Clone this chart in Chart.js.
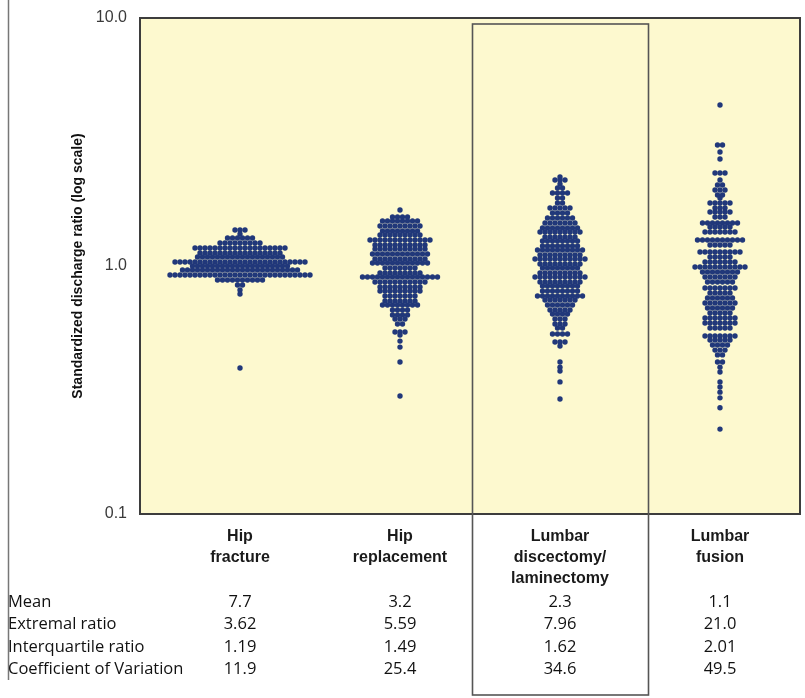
<!DOCTYPE html>
<html><head><meta charset="utf-8">
<script src="https://cdn.jsdelivr.net/npm/chart.js@4"></script>
<style>html,body{margin:0;padding:0;background:#fff;overflow:hidden}#wrap{position:relative;width:805px;height:698px}</style>
</head><body><div id="wrap"><canvas id="c" width="805" height="698"></canvas></div>
<script>
// ---- data ----
const categories = [["Hip","fracture"],["Hip","replacement"],["Lumbar","discectomy/","laminectomy"],["Lumbar","fusion"]];
const yTickValues = [0.1, 1, 10];
const tableRowLabels = ["Mean","Extremal ratio","Interquartile ratio","Coefficient of Variation"];
const meanValues = ["7.7","3.2","2.3","1.1"];
const extremalRatio = ["3.62","5.59","7.96","21.0"];
const interquartileRatio = ["1.19","1.49","1.62","2.01"];
const coefficientOfVariation = ["11.9","25.4","34.6","49.5"];

// each row of dots: ratio value and number of regions at that value
const hipFractureValues = [1.397,1.346,1.297,1.238,1.182,1.128,1.087,1.038,1.000,0.963,0.920,0.878,0.838,0.800,0.771,0.388];
const hipFractureCounts = [3,1,6,9,19,17,18,27,20,24,29,10,2,1,1,1];

const hipReplacementValues = [1.682,1.576,1.519,1.450,1.384,1.334,1.273,1.215,1.171,1.118,1.067,1.028,0.982,0.937,0.903,0.862,0.823,0.793,0.757,0.723,0.696,0.665,0.635,0.611,0.584,0.542,0.527,0.498,0.471,0.410,0.299];
const hipReplacementCounts = [1,4,8,9,8,9,13,11,11,12,11,12,7,9,16,11,9,9,7,7,8,4,4,3,2,3,1,1,1,1,1];

const discectomyValues = [2.285,2.222,2.141,2.063,1.970,1.880,1.795,1.713,1.636,1.562,1.491,1.423,1.371,1.309,1.261,1.204,1.160,1.108,1.067,1.019,0.982,0.937,0.903,0.862,0.831,0.793,0.757,0.729,0.696,0.665,0.640,0.611,0.584,0.562,0.532,0.494,0.476,0.410,0.391,0.377,0.341,0.291];
const discectomyCounts = [1,3,1,2,4,2,2,5,4,6,7,8,9,7,8,8,10,9,11,9,8,9,11,9,8,8,10,7,6,5,4,3,3,2,4,3,1,1,1,1,1,1];

const fusionValues = [4.459,3.076,2.882,2.701,2.371,2.222,2.122,2.025,1.933,1.880,1.795,1.713,1.651,1.576,1.491,1.436,1.371,1.273,1.215,1.139,1.087,1.038,0.991,0.946,0.903,0.862,0.815,0.778,0.743,0.709,0.677,0.646,0.617,0.589,0.562,0.522,0.503,0.480,0.458,0.438,0.410,0.391,0.374,0.341,0.325,0.310,0.294,0.268,0.220];
const fusionCounts = [1,2,1,1,3,1,2,3,2,1,5,3,5,3,8,5,7,10,5,9,5,7,11,8,7,6,7,5,6,7,6,5,7,7,5,7,5,4,3,2,2,1,1,1,1,1,1,1,1];

// ---- build datasets ----
const DX = 5/160; // horizontal dot pitch in category units
function buildDots(values, counts, idx){
  const pts = [];
  values.forEach((v, r) => {
    const n = counts[r];
    for (let k = 0; k < n; k++) pts.push({x: idx + (k - (n - 1) / 2) * DX, y: v});
  });
  return pts;
}
const series = [
  [hipFractureValues, hipFractureCounts],
  [hipReplacementValues, hipReplacementCounts],
  [discectomyValues, discectomyCounts],
  [fusionValues, fusionCounts]
];
const DOT = '#21387a';
const datasets = series.map((s, i) => ({
  data: buildDots(s[0], s[1], i),
  pointRadius: 2.7, pointBackgroundColor: DOT, pointBorderWidth: 0, pointHoverRadius: 2.7
}));

const decor = {
  id: 'decor',
  beforeDraw(chart){
    const {ctx, chartArea: a} = chart;
    ctx.save();
    ctx.fillStyle = '#fff';
    ctx.fillRect(0, 0, chart.width, chart.height);
    ctx.fillStyle = '#FDF9CF';
    ctx.fillRect(a.left, a.top, a.right - a.left, a.bottom - a.top);
    ctx.restore();
  },
  afterDraw(chart){
    const {ctx, chartArea: a, scales: {x}} = chart;
    ctx.save();
    // left page rule
    ctx.strokeStyle = '#777'; ctx.lineWidth = 1.5;
    ctx.beginPath(); ctx.moveTo(8.5, 0); ctx.lineTo(8.5, 680); ctx.stroke();
    // plot border
    ctx.strokeStyle = '#3d3d3d'; ctx.lineWidth = 2;
    ctx.strokeRect(a.left, a.top, a.right - a.left, a.bottom - a.top);
    // highlight box around lumbar discectomy
    const x1 = Math.round(x.getPixelForValue(2 - 0.55)) + 0.5;
    const x2 = Math.round(x.getPixelForValue(2 + 0.55)) + 0.5;
    ctx.strokeStyle = '#555'; ctx.lineWidth = 1.6;
    ctx.strokeRect(x1, a.top + 6, x2 - x1, 695 - (a.top + 6));
    // table
    const rows = [meanValues, extremalRatio, interquartileRatio, coefficientOfVariation];
    ctx.font = '16.5px "Open Sans"';
    ctx.fillStyle = '#111';
    ctx.textBaseline = 'middle';
    rows.forEach((vals, r) => {
      const yy = a.bottom + 88 + r * 22.5;
      ctx.textAlign = 'left';
      ctx.fillText(tableRowLabels[r], 8, yy);
      ctx.textAlign = 'center';
      vals.forEach((v, i) => ctx.fillText(v, x.getPixelForValue(i), yy));
    });
    ctx.restore();
  }
};

new Chart(document.getElementById('c'), {
  type: 'scatter',
  data: {datasets},
  options: {
    responsive: false, animation: false, events: [],
    layout: {autoPadding: false, padding: {left: 0, right: 5, top: 18, bottom: 0}},
    plugins: {legend: {display: false}, tooltip: {enabled: false}},
    scales: {
      x: {
        type: 'linear', min: -0.625, max: 3.5,
        grid: {display: false, drawTicks: false}, border: {display: false},
        afterBuildTicks: s => { s.ticks = categories.map((c, i) => ({value: i})); },
        afterFit: s => { s.height = 184; s.paddingLeft = 0; s.paddingRight = 0; },
        ticks: {autoSkip: false, maxRotation: 0, minRotation: 0, padding: 12, color: '#1a1a1a',
          font: {family: '"Liberation Sans", Arial, sans-serif', weight: 'bold', size: 16, lineHeight: 1.3125},
          callback: v => categories[v]}
      },
      y: {
        type: 'logarithmic', min: 0.1, max: 10,
        grid: {display: false, drawTicks: false}, border: {display: false},
        afterBuildTicks: s => { s.ticks = yTickValues.map(v => ({value: v})); },
        afterFit: s => { s.width = 140; s.paddingTop = 0; s.paddingBottom = 0; },
        ticks: {padding: 13, color: '#3a3a3a', font: {family: '"Liberation Sans", Arial, sans-serif', size: 16},
          callback: v => Number(v).toFixed(1)},
        title: {display: true, text: 'Standardized discharge ratio (log scale)', color: '#111',
          font: {family: '"Liberation Sans", Arial, sans-serif', weight: 'bold', size: 14},
          padding: {top: 70, bottom: 0}}
      }
    }
  },
  plugins: [decor]
});
</script></body></html>
